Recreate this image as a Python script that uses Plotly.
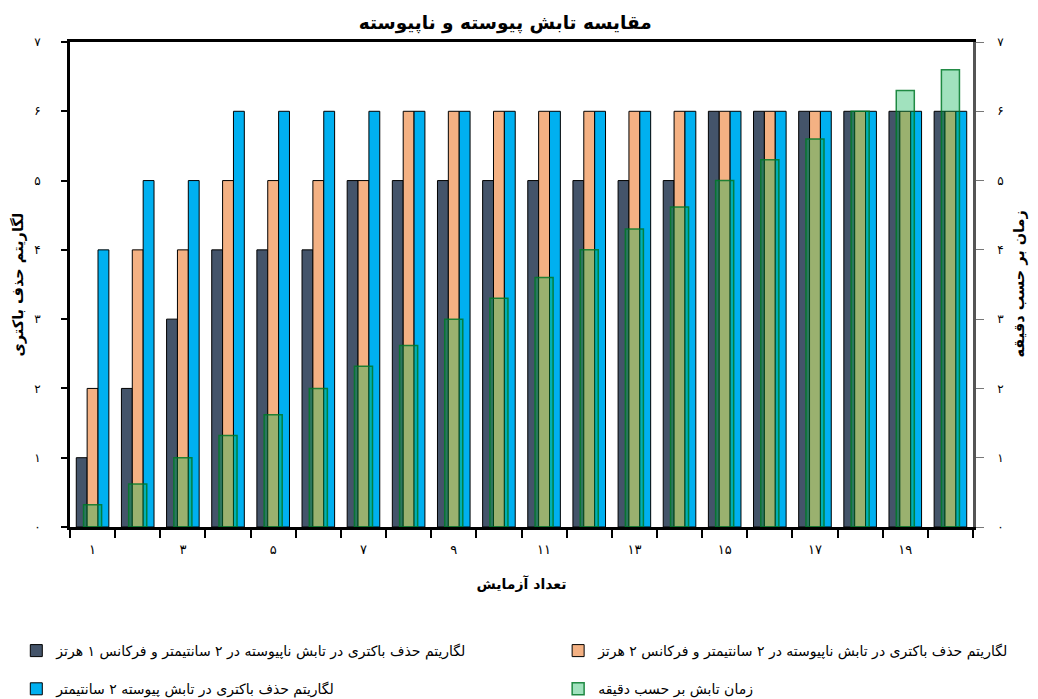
import plotly.graph_objects as go

categories = ["۱", "۲", "۳", "۴", "۵", "۶", "۷", "۸", "۹", "۱۰",
              "۱۱", "۱۲", "۱۳", "۱۴", "۱۵", "۱۶", "۱۷", "۱۸", "۱۹", "۲۰"]
x_ticktext = [c if i % 2 == 0 else "" for i, c in enumerate(categories)]

pulsed_1hz = [1, 2, 3, 4, 4, 4, 5, 5, 5, 5, 5, 5, 5, 5, 6, 6, 6, 6, 6, 6]
pulsed_2hz = [2, 4, 4, 5, 5, 5, 5, 6, 6, 6, 6, 6, 6, 6, 6, 6, 6, 6, 6, 6]
continuous = [4, 5, 5, 6, 6, 6, 6, 6, 6, 6, 6, 6, 6, 6, 6, 6, 6, 6, 6, 6]
time_min = [0.32, 0.62, 1.0, 1.32, 1.62, 2.0, 2.32, 2.62, 3.0, 3.3,
            3.6, 4.0, 4.3, 4.62, 5.0, 5.3, 5.6, 6.0, 6.3, 6.6]

y_tickvals = [0, 1, 2, 3, 4, 5, 6, 7]
y_ticktext = ["۰", "۱", "۲", "۳", "۴", "۵", "۶", "۷"]

names = [
    "لگاریتم حذف باکتری در تابش ناپیوسته در ۲ سانتیمتر و فرکانس ۱ هرتز",
    "لگاریتم حذف باکتری در تابش ناپیوسته در ۲ سانتیمتر و فرکانس ۲ هرتز",
    "لگاریتم حذف باکتری در تابش پیوسته ۲ سانتیمتر",
    "زمان تابش بر حسب دقیقه",
]

title_text = "مقایسه تابش پیوسته و ناپیوسته"
x_title = "تعداد آزمایش"
y_title = "لگاریتم حذف باکتری"
y2_title = "زمان بر حسب دقیقه"

FONT = "DejaVu Sans"

fig = go.Figure()
fig.add_trace(go.Bar(x=categories, y=pulsed_1hz, name=names[0],
                     marker=dict(color="#44546a", line=dict(color="black", width=1)),
                     legend="legend", legendgroup="a"))
fig.add_trace(go.Bar(x=categories, y=pulsed_2hz, name=names[1],
                     marker=dict(color="#f4b183", line=dict(color="black", width=1)),
                     legend="legend2", legendgroup="b"))
fig.add_trace(go.Bar(x=categories, y=continuous, name=names[2],
                     marker=dict(color="#00b0f0", line=dict(color="black", width=1)),
                     legend="legend", legendgroup="c"))
fig.add_trace(go.Bar(x=categories, y=time_min, name=names[3], yaxis="y2", width=0.4,
                     marker=dict(color="rgba(0,176,80,0.37)",
                                 line=dict(color="rgba(0,120,40,0.85)", width=1.5)),
                     legend="legend2", legendgroup="d"))

legend_common = dict(yref="container", xref="container", y=0.103, yanchor="top",
                     xanchor="left", orientation="v", tracegroupgap=17,
                     font=dict(size=14), bgcolor="rgba(0,0,0,0)", itemwidth=30)

fig.update_layout(
    width=1038, height=699,
    margin=dict(l=62, r=73, t=34, b=180, autoexpand=False),
    paper_bgcolor="white", plot_bgcolor="white",
    font=dict(family=FONT, color="black", size=12),
    barmode="group", bargap=0.278, bargroupgap=0,
    title=dict(text="<b>" + title_text + "</b>", x=0.479, xanchor="center",
               y=0.9795, yanchor="middle", font=dict(size=18.5)),
    xaxis=dict(type="category", tickvals=categories, ticktext=x_ticktext,
               tickson="boundaries", ticks="outside", ticklen=8, tickwidth=1.5,
               tickcolor="black", showline=True, linecolor="black", linewidth=3,
               mirror=True, showgrid=False, zeroline=False, automargin=True,
               tickfont=dict(size=13), ticklabelstandoff=8,
               title=dict(text="<b>" + x_title + "</b>", font=dict(size=14), standoff=24)),
    yaxis=dict(range=[0, 7], tickvals=y_tickvals, ticktext=y_ticktext,
               ticks="outside", ticklen=6, tickwidth=1.5, tickcolor="black",
               showline=True, linecolor="black", linewidth=3, automargin=False,
               showgrid=False, zeroline=False, ticklabelstandoff=18,
               tickfont=dict(size=12)),
    yaxis2=dict(range=[0, 7], tickvals=y_tickvals, ticktext=y_ticktext,
                overlaying="y", side="right", automargin=False,
                ticks="outside", ticklen=8, tickwidth=1, tickcolor="#777",
                showline=True, linecolor="#555", linewidth=2.5,
                showgrid=False, zeroline=False, ticklabelstandoff=11,
                tickfont=dict(size=12)),
    legend=dict(x=0.008, **legend_common),
    legend2=dict(x=0.53, **legend_common),
    showlegend=True,
)

fig.add_annotation(text="<b>" + y_title + "</b>", xref="paper", yref="paper",
                   x=0, y=0.5, xanchor="center", yanchor="middle", xshift=-53,
                   textangle=-90, showarrow=False, font=dict(size=14.5))
fig.add_annotation(text="<b>" + y2_title + "</b>", xref="paper", yref="paper",
                   x=1, y=0.5, xanchor="center", yanchor="middle", xshift=46,
                   textangle=-90, showarrow=False, font=dict(size=14.5))

fig.write_html("out.html")
